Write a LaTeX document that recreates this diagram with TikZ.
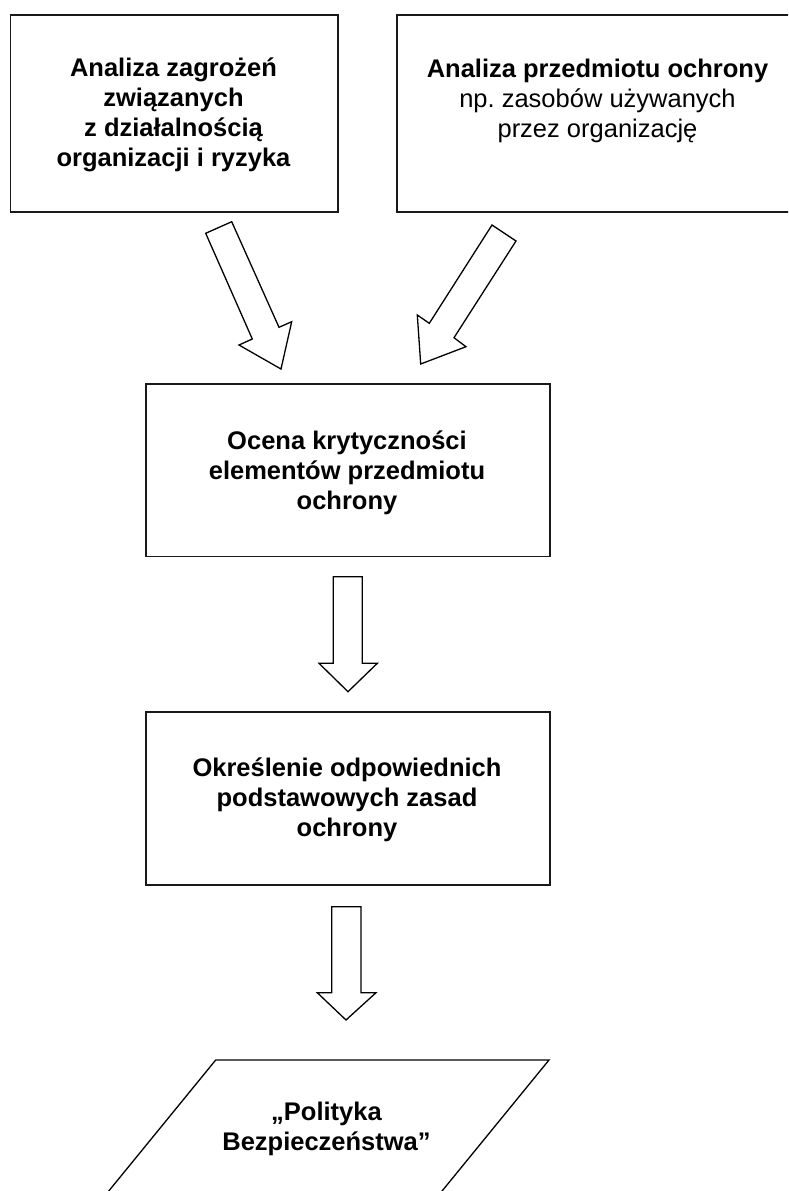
\documentclass[tikz,border=0pt]{standalone}
\usepackage{fontspec}
\setmainfont{Liberation Sans}
\begin{document}
\begin{tikzpicture}[x=1pt,y=-1pt,
  box/.style={draw=black!90, line width=1.6pt, fill=white, inner sep=0pt, anchor=north west},
  blockarrow/.style={draw=black, line width=1.3pt, fill=white, line join=miter},
  txt/.style={align=center, inner sep=0pt, font=\fontsize{25.5}{30}\selectfont\bfseries},
  txtreg/.style={align=center, inner sep=0pt, font=\fontsize{25.5}{30}\selectfont}]
\useasboundingbox (0,0) rectangle (788,1191);
\clip (0,0) rectangle (788,1191);
% boxes
\node[box, minimum width=327.5pt, minimum height=197pt] (b1) at (9.5,14) {};
\node[box, minimum width=403pt, minimum height=197pt] (b2) at (396,14) {};
\node[box, minimum width=404pt, minimum height=172.5pt] (b3) at (145,383.3) {};
\node[box, minimum width=404pt, minimum height=173pt] (b4) at (145,711) {};
% parallelogram (bottom cut off by the page)
\coordinate (p1) at (215.7,1060);
\coordinate (p2) at (549,1060);
\coordinate (p3) at (420,1218);
\coordinate (p4) at (86.7,1218);
\draw[line width=1.3pt] (p1) -- (p2) -- (p3) -- (p4) -- cycle;
% texts
\node[txt] (t1) at (173.5,114.5) {Analiza zagrożeń\\związanych\\z działalnością\\organizacji i ryzyka};
\node[txtreg] (t2) at (597.5,100.5) {\textbf{Analiza przedmiotu ochrony}\\np.\ zasobów używanych\\przez organizację};
\node[txt] (t3) at (347,472.5) {Ocena krytyczności\\elementów przedmiotu\\ochrony};
\node[txt] (t4) at (347,799.5) {Określenie odpowiednich\\podstawowych zasad\\ochrony};
\node[txt] (t5) at (326.5,1129) {„Polityka\\Bezpieczeństwa”};
% block arrows
\draw[blockarrow] (205.7,233.3) -- (231.7,221.7) -- (279,327.3) -- (291.7,321.7) -- (281,369) -- (239,345) -- (252.3,339) -- cycle;
\draw[blockarrow] (492,225) -- (516,241) -- (454,337.7) -- (466,346.7) -- (420.7,364) -- (417.3,315) -- (429.3,323.3) -- cycle;
\draw[blockarrow] (333.3,576.7) -- (362.3,576.7) -- (362.3,663.3) -- (377.3,663.3) -- (348,691.7) -- (319,663.3) -- (333.3,663.3) -- cycle;
\draw[blockarrow] (331.7,906.7) -- (361,906.7) -- (361,992.7) -- (376,992.7) -- (346,1020) -- (317.3,992.7) -- (331.7,992.7) -- cycle;
\end{tikzpicture}
\end{document}
